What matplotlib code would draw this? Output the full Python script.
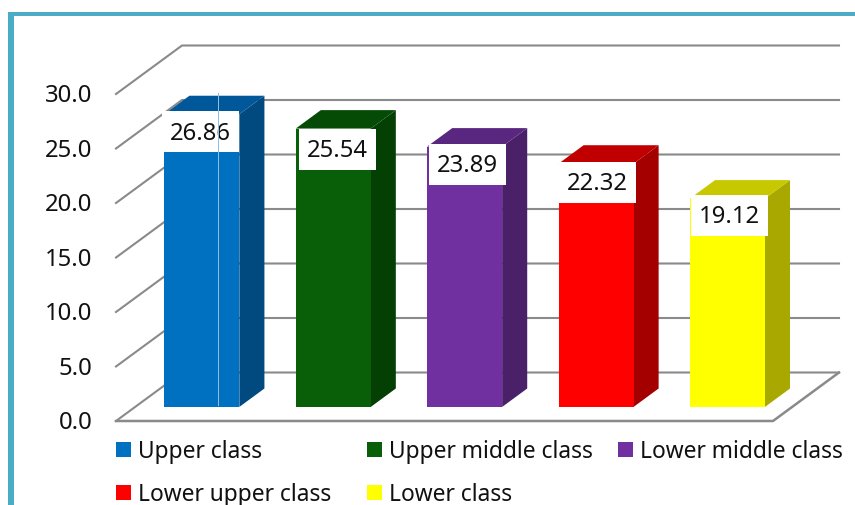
import matplotlib
matplotlib.use("Agg")
import matplotlib.pyplot as plt
from matplotlib.patches import Polygon, Rectangle

plt.rcParams['font.family'] = ['Noto Sans', 'DejaVu Sans']

categories = ["Upper class", "Upper middle class", "Lower middle class", "Lower upper class", "Lower class"]
values = [26.86, 25.54, 23.89, 22.32, 19.12]
labels = ["26.86", "25.54", "23.89", "22.32", "19.12"]
front_colors = ["#0070C0", "#085F08", "#7030A0", "#FF0000", "#FFFF00"]
side_colors = ["#004A80", "#043F04", "#4A2069", "#A40000", "#A8A800"]
top_colors = ["#00589A", "#054A05", "#592680", "#C00000", "#C8C800"]
y_ticks = [0, 5, 10, 15, 20, 25, 30]
# label box nudges relative to the bar's front top centre (pixels)
label_dx = [-1, 4, 3, 1, 2]
label_dy = [3, 0, 3, 2, 4]

W, H = 855, 506
fig = plt.figure(figsize=(W / 100, H / 100), dpi=100, facecolor="white")
AX_L, AX_R, AX_B, AX_T = 116, 773, 422, 95
ax = fig.add_axes([AX_L / W, 1 - AX_B / H, (AX_R - AX_L) / W, (AX_B - AX_T) / H])
ax.set_xlim(-0.5, 4.5)
ax.set_ylim(0, 30)
ax.axis("off")

PXX = (AX_R - AX_L) / 5
PXY = (AX_B - AX_T) / 30
DX = 66 / PXX
DY = 48.5 / PXY
BW = 75 / PXX
BAR_SHIFT = 1 / PXX


def P(x, v, d):
    return (x + DX * d, v + DY * d)


GRID = "#8A8A8A"
x0, x1 = -0.5, 4.5
for t in y_ticks:
    ax.plot(*zip(P(x0, t, 0), P(x0, t, 1), P(x1, t, 1)), color=GRID, lw=1.5, clip_on=False, zorder=1, solid_joinstyle="miter")
    ax.text(x0 - 0.18, t - 1.5 / PXY, f"{t:.1f}", ha="right", va="center", fontsize=17.2, color="#111111", clip_on=False)
ax.plot(*zip(P(x0, 0, 0), P(x1, 0, 0), P(x1, 0, 1)), color=GRID, lw=1.8, clip_on=False, zorder=1)

D0, D1 = 0.29, 0.67
for i, v in enumerate(values):
    c = i + BAR_SHIFT
    l, r = c - BW / 2, c + BW / 2
    ax.add_patch(Polygon([P(r, 0, D0), P(r, 0, D1), P(r, v, D1), P(r, v, D0)], fc=side_colors[i], ec="none", clip_on=False, zorder=3))
    ax.add_patch(Polygon([P(l, v, D0), P(r, v, D0), P(r, v, D1), P(l, v, D1)], fc=top_colors[i], ec="none", clip_on=False, zorder=3))
    ax.add_patch(Polygon([P(l, 0, D0), P(r, 0, D0), P(r, v, D0), P(l, v, D0)], fc=front_colors[i], ec="none", clip_on=False, zorder=4))
    cx, cy = P(c, v, D0)
    cx += label_dx[i] / PXX
    cy += label_dy[i] / PXY
    bw, bh = 77 / PXX, 41 / PXY
    ax.add_patch(Rectangle((cx - bw / 2, cy - bh), bw, bh, fc="white", ec="none", clip_on=False, zorder=5))
    ax.text(cx, cy - (bh / 2) - 1 / PXY, labels[i], ha="center", va="center", fontsize=17.2, color="#111111", zorder=6, clip_on=False)

# frame
TEAL = "#4BACC6"
fig.add_artist(Rectangle((8 / W, 0), 6 / W, 1 - 13 / H, transform=fig.transFigure, fc=TEAL, ec="none"))
fig.add_artist(Rectangle((8 / W, 1 - 17 / H), 1 - 8 / W, 4 / H, transform=fig.transFigure, fc=TEAL, ec="none"))
# thin seam
fig.add_artist(Rectangle((218.3 / W, 1 - 407 / H), 0.8 / W, (407 - 94) / H, transform=fig.transFigure, fc="#8FBFE0", ec="none", zorder=6))

# legend
slots = [(116, 450.5), (367, 450.5), (618, 450.5), (116, 493.5), (367, 493.5)]
for (px, py), name, c in zip(slots, categories, front_colors):
    fig.add_artist(Rectangle((px / W, 1 - (py + 7.5) / H), 15 / W, 15 / H, transform=fig.transFigure, fc=c, ec="none"))
    fig.text((px + 22) / W, 1 - (py + 1.5) / H, name, ha="left", va="center", fontsize=16.4, color="#111111")

fig.savefig("out.png", dpi=100)
